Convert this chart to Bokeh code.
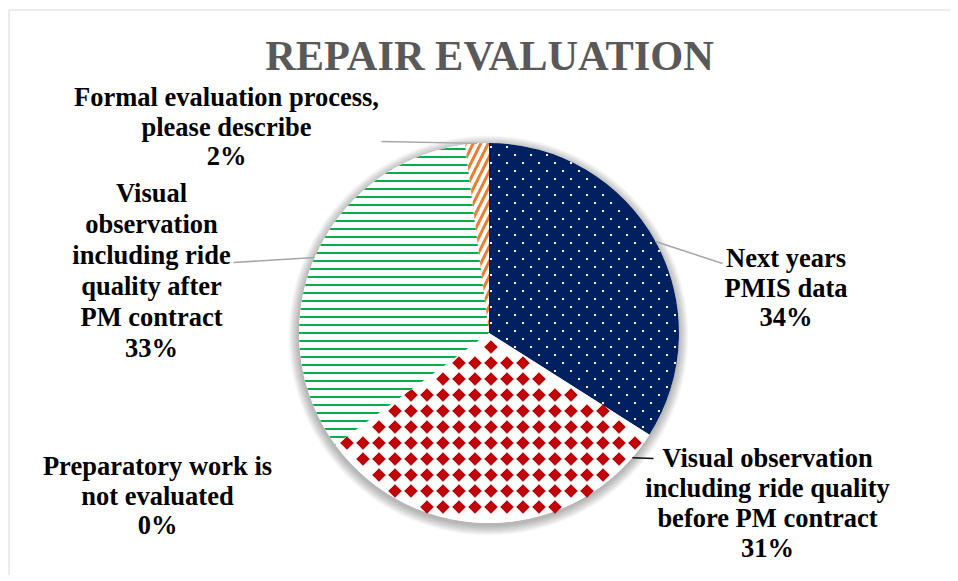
import numpy as np
from bokeh.plotting import figure
from bokeh.models import Range1d
from bokeh.core.properties import value
from bokeh.embed import file_html
from bokeh.resources import INLINE

# ---------------- data ----------------
title = "REPAIR EVALUATION"
categories = [
    "Next years PMIS data",
    "Visual observation including ride quality before PM contract",
    "Preparatory work is not evaluated",
    "Visual observation including ride quality after PM contract",
    "Formal evaluation process, please describe",
]
percent = [34, 31, 0, 33, 2]
wrapped = [
    ["Next years", "PMIS data"],
    ["Visual observation", "including ride quality", "before PM contract"],
    ["Preparatory work is", "not evaluated"],
    ["Visual", "observation", "including ride", "quality after", "PM contract"],
    ["Formal evaluation process,", "please describe"],
]

# ---------------- styles ----------------
fill_colors = ["#002060", "#FFFFFF", "#FFFFFF", "#FFFFFF", "#FFFFFF"]
hatch_patterns = [None, None, None, "horizontal_line", "right_diagonal_line"]
hatch_colors = [None, None, None, "#00B050", "#ED7D31"]
hatch_scales = [8, 8, 8, 8, 15]
hatch_weights = [1, 1, 1, 2, 3]
# point textures (dots / diamonds) drawn as small rects inside slices
tex_on = [True, True, False, False, False]
tex_color = ["#FFFFFF", "#C00000", None, None, None]
tex_side = [2.0, 9.6, 0, 0, 0]
tex_angle = [0.0, np.pi / 4, 0, 0, 0]
tex_step = [(16, 8, True), (16, 16, False), None, None, None]  # dx, dy, staggered
tex_margin = [1.0, 3.5, 0, 0, 0]

W, H = 950, 575
FONT = "Liberation Serif"
LABEL_FS = 26.5
TITLE_FS = 42.4
BASELINE_FIX = 0.32  # svg text sits this many em below its anchor


def sx(x):
    return x


def sy(y):
    return H - y


def ty(y, fs):
    return H - (y - BASELINE_FIX * fs)


cx, cy, R = sx(488.5), sy(332.5), 190.0

# label layout: (center x, first baseline y) in screen px, line spacing
label_pos = [(785.5, 266), (767, 466), (157, 474), (151, 201), (226, 105)]
line_gap = [29.5, 30, 29.5, 31, 29.5]
leader_angle = [None, 131.0, None, None, None]
leader_end = [(722, 263), (653, 458), None, (233, 262), (381, 141)]
leader_color = ["#A6A6A6", "#0D0D0D", None, "#A6A6A6", "#A6A6A6"]

p = figure(width=W, height=H, output_backend="svg", toolbar_location=None,
           x_range=Range1d(0, W), y_range=Range1d(0, H), min_border=0)
p.axis.visible = False
p.grid.visible = False
p.outline_line_color = None
p.background_fill_color = "white"
p.border_fill_color = "white"

# chart border (top and left visible)
p.segment(x0=[sx(8.5), sx(8.5)], y0=[sy(9.5), sy(9.5)], x1=[sx(W), sx(8.5)], y1=[sy(9.5), sy(H)],
          line_color="#D9D9D9", line_width=1)

# soft shadow
for k in range(1, 12):
    p.circle(x=[cx - 0.5], y=[cy - 2.5], radius=R + k * 0.9, fill_color="black",
             fill_alpha=0.026, line_color=None)
p.circle(x=[cx], y=[cy], radius=R, fill_color="white", line_color=None)

total = float(sum(percent))
cum = np.concatenate([[0], np.cumsum(percent)]) / total
for i, v in enumerate(percent):
    if v <= 0:
        continue
    a0 = np.pi / 2 - 2 * np.pi * cum[i]
    a1 = np.pi / 2 - 2 * np.pi * cum[i + 1]
    kw = dict(x=[cx], y=[cy], radius=R, start_angle=a0, end_angle=a1, direction="clock",
              fill_color=fill_colors[i], line_color=None)
    if hatch_patterns[i]:
        kw.update(hatch_pattern=hatch_patterns[i], hatch_color=hatch_colors[i],
                  hatch_scale=hatch_scales[i], hatch_weight=hatch_weights[i])
    p.wedge(**kw)

    # point texture clipped to the slice
    if tex_on[i]:
        dx, dy, stag = tex_step[i]
        th0, th1 = 2 * np.pi * cum[i], 2 * np.pi * cum[i + 1]
        px, py = [], []
        rows = np.arange(cy - R - dy, cy + R + dy, dy)
        for r_i, yy in enumerate(rows):
            off = (dx / 2) if (stag and r_i % 2) else 0.0
            for xx in np.arange(cx - R - dx + off, cx + R + dx, dx):
                ddx, ddy = xx - cx, yy - cy
                rr = np.hypot(ddx, ddy)
                if rr > R - tex_margin[i] or rr < 1e-6:
                    continue
                th = np.arctan2(ddx, ddy) % (2 * np.pi)
                if not (th0 <= th <= th1):
                    continue
                d0 = rr * np.sin(min(th - th0, np.pi / 2))
                d1 = rr * np.sin(min(th1 - th, np.pi / 2))
                if min(d0, d1) < tex_margin[i]:
                    continue
                px.append(xx)
                py.append(yy)
        p.rect(x=px, y=py, width=tex_side[i], height=tex_side[i], angle=tex_angle[i],
               fill_color=tex_color[i], line_color=None)

# leader lines
for i in range(len(percent)):
    if leader_end[i] is None:
        continue
    ang = 360.0 * (cum[i] + cum[i + 1]) / 2 if leader_angle[i] is None else leader_angle[i]
    t = np.deg2rad(ang)
    x0 = cx + R * np.sin(t)
    y0 = cy + R * np.cos(t)
    p.line(x=[x0, sx(leader_end[i][0])], y=[y0, sy(leader_end[i][1])],
           line_color=leader_color[i], line_width=1.5)

# labels
for i, v in enumerate(percent):
    lines = wrapped[i] + [f"{v}%"]
    x0, y0 = label_pos[i]
    ys = [ty(y0 + j * line_gap[i], LABEL_FS) for j in range(len(lines))]
    p.text(x=[sx(x0)] * len(lines), y=ys, text=lines, text_align="center",
           text_baseline="alphabetic", text_font=value(FONT),
           text_font_style="bold", text_font_size=f"{LABEL_FS}px", text_color="#000000")

# title
p.text(x=[sx(489)], y=[ty(68.5, TITLE_FS)], text=[title], text_align="center",
       text_baseline="alphabetic", text_font=value(FONT), text_font_style="bold",
       text_font_size=f"{TITLE_FS}px", text_color="#595959")

open("out.html", "w").write(file_html(p, INLINE))
